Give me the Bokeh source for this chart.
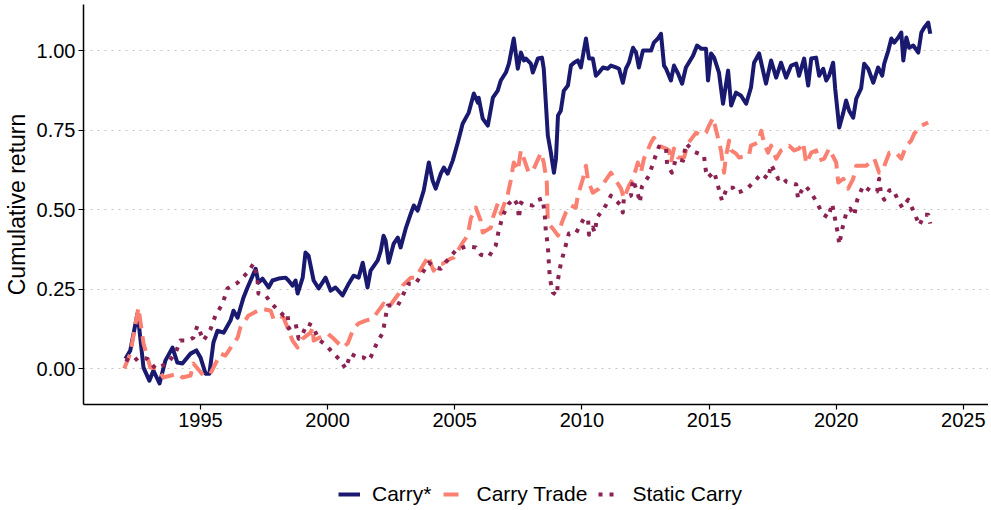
from bokeh.plotting import figure
from bokeh.layouts import column
from bokeh.models import Range1d, FixedTicker, NumeralTickFormatter, Legend, LegendItem
from bokeh.embed import file_html
from bokeh.resources import INLINE

# ---- data (year, cumulative return) ----
carry_star = [
(1992.05,0.031),(1992.24,0.057),(1992.52,0.173),(1992.56,0.151),(1992.76,0.003),(1992.99,-0.038),
(1993.15,-0.006),(1993.39,-0.047),(1993.62,0.025),(1993.90,0.066),(1994.09,0.019),(1994.29,0.016),
(1994.61,0.047),(1994.84,0.057),(1995.00,0.035),(1995.20,-0.016),(1995.35,-0.016),(1995.51,0.082),
(1995.67,0.119),(1995.91,0.113),(1996.18,0.151),(1996.30,0.182),(1996.46,0.160),(1996.69,0.223),
(1996.85,0.255),(1996.97,0.277),(1997.17,0.314),(1997.28,0.270),(1997.44,0.283),(1997.68,0.255),
(1997.83,0.277),(1998.07,0.283),(1998.35,0.286),(1998.46,0.277),(1998.62,0.261),(1998.74,0.277),
(1998.82,0.236),(1999.02,0.286),(1999.13,0.365),(1999.25,0.355),(1999.45,0.277),(1999.65,0.252),
(1999.92,0.286),(2000.12,0.245),(2000.31,0.255),(2000.59,0.230),(2000.83,0.267),(2001.02,0.292),
(2001.22,0.286),(2001.38,0.333),(2001.57,0.255),(2001.69,0.308),(2001.97,0.340),(2002.09,0.371),
(2002.20,0.418),(2002.28,0.403),(2002.40,0.333),(2002.60,0.393),(2002.76,0.412),(2002.87,0.381),
(2003.07,0.440),(2003.27,0.487),(2003.39,0.513),(2003.54,0.497),(2003.78,0.560),(2003.98,0.648),
(2004.13,0.591),(2004.25,0.566),(2004.45,0.613),(2004.57,0.632),(2004.72,0.613),(2004.92,0.654),
(2005.12,0.711),(2005.31,0.770),(2005.55,0.805),(2005.75,0.865),(2005.91,0.836),(2005.94,0.852),
(2006.10,0.786),(2006.30,0.764),(2006.50,0.852),(2006.69,0.874),(2006.81,0.906),(2007.01,0.931),
(2007.13,0.959),(2007.32,1.038),(2007.48,0.943),(2007.60,0.994),(2007.72,0.969),(2007.80,0.975),
(2007.99,0.959),(2008.07,0.931),(2008.27,0.975),(2008.43,0.978),(2008.50,0.943),(2008.66,0.733),
(2008.78,0.679),(2008.90,0.616),(2008.98,0.660),(2009.06,0.796),(2009.17,0.811),(2009.29,0.874),
(2009.45,0.890),(2009.57,0.953),(2009.69,0.962),(2009.84,0.969),(2009.96,0.947),(2010.16,1.038),
(2010.28,0.975),(2010.43,0.975),(2010.55,0.921),(2010.67,0.931),(2010.83,0.947),(2011.02,0.943),
(2011.14,0.953),(2011.34,0.947),(2011.46,0.943),(2011.61,0.899),(2011.73,0.943),(2011.85,0.962),
(2012.01,1.009),(2012.13,0.994),(2012.24,0.947),(2012.40,1.000),(2012.52,1.000),(2012.72,1.000),
(2012.83,1.025),(2012.99,1.038),(2013.11,1.053),(2013.23,0.953),(2013.31,0.943),(2013.50,0.906),
(2013.62,0.953),(2013.78,0.928),(2013.94,0.896),(2014.09,0.947),(2014.37,0.984),(2014.53,1.016),
(2014.69,1.006),(2014.88,1.006),(2014.96,0.906),(2015.08,0.991),(2015.20,0.978),(2015.39,0.931),
(2015.55,0.833),(2015.75,0.937),(2015.87,0.827),(2016.06,0.868),(2016.26,0.858),(2016.46,0.833),
(2016.65,0.884),(2016.77,0.962),(2016.97,0.991),(2017.24,0.896),(2017.44,0.969),(2017.64,0.915),
(2017.83,0.962),(2018.03,0.915),(2018.23,0.953),(2018.43,0.959),(2018.54,0.921),(2018.74,0.975),
(2018.90,0.890),(2019.02,0.975),(2019.21,0.978),(2019.33,0.921),(2019.49,0.943),(2019.61,0.906),
(2019.72,0.921),(2019.88,0.962),(2019.96,0.881),(2020.12,0.758),(2020.28,0.805),(2020.39,0.843),
(2020.51,0.811),(2020.67,0.789),(2020.79,0.849),(2020.98,0.881),(2021.10,0.959),(2021.26,0.943),
(2021.46,0.899),(2021.65,0.947),(2021.81,0.921),(2021.89,0.959),(2022.05,1.000),(2022.17,1.038),
(2022.28,1.025),(2022.44,1.041),(2022.56,1.057),(2022.64,0.969),(2022.76,1.041),(2022.87,1.009),
(2023.03,1.016),(2023.23,0.994),(2023.35,1.057),(2023.46,1.072),(2023.62,1.088),(2023.70,1.053),
]

carry_trade = [
(1992.00,0.000),(1992.24,0.047),(1992.56,0.192),(1992.76,0.079),(1993.03,0.003),(1993.31,0.000),
(1993.54,-0.028),(1994.13,-0.016),(1994.29,-0.028),(1994.61,-0.022),(1994.72,0.016),(1995.12,-0.022),
(1995.39,-0.016),(1995.79,0.047),(1995.98,0.041),(1996.46,0.097),(1996.57,0.129),(1996.89,0.167),
(1997.05,0.173),(1997.24,0.182),(1997.36,0.189),(1997.76,0.182),(1997.87,0.157),(1998.07,0.167),
(1998.27,0.160),(1998.62,0.088),(1998.82,0.066),(1999.02,0.094),(1999.33,0.113),(1999.41,0.129),
(1999.45,0.088),(2000.00,0.110),(2000.20,0.097),(2000.59,0.066),(2000.79,0.079),(2001.02,0.126),
(2001.22,0.142),(2001.50,0.151),(2001.77,0.157),(2002.20,0.204),(2002.40,0.192),(2002.80,0.236),
(2002.95,0.261),(2003.27,0.286),(2003.46,0.286),(2003.98,0.355),(2004.06,0.330),(2004.17,0.308),
(2004.37,0.330),(2004.53,0.330),(2004.84,0.346),(2004.96,0.349),(2005.31,0.396),(2005.51,0.418),
(2005.63,0.472),(2005.83,0.506),(2006.02,0.465),(2006.10,0.428),(2006.42,0.443),(2006.50,0.475),
(2006.69,0.519),(2006.81,0.487),(2007.09,0.550),(2007.20,0.591),(2007.32,0.648),(2007.48,0.623),
(2007.60,0.686),(2007.72,0.660),(2007.91,0.616),(2008.11,0.629),(2008.39,0.679),(2008.50,0.648),
(2008.62,0.585),(2008.66,0.459),(2008.86,0.440),(2009.06,0.418),(2009.21,0.459),(2009.37,0.491),
(2009.57,0.513),(2009.76,0.506),(2009.84,0.544),(2010.04,0.597),(2010.16,0.638),(2010.24,0.591),
(2010.43,0.553),(2010.67,0.566),(2010.87,0.585),(2011.14,0.616),(2011.54,0.566),(2011.65,0.535),
(2011.85,0.575),(2012.01,0.597),(2012.20,0.648),(2012.32,0.616),(2012.44,0.660),(2012.72,0.711),
(2012.83,0.726),(2013.03,0.701),(2013.31,0.692),(2013.43,0.686),(2013.50,0.648),(2013.62,0.692),
(2013.78,0.664),(2014.02,0.664),(2014.17,0.708),(2014.49,0.742),(2014.69,0.733),(2014.88,0.742),
(2015.00,0.764),(2015.16,0.789),(2015.35,0.726),(2015.47,0.686),(2015.59,0.616),(2015.67,0.670),
(2015.79,0.717),(2015.87,0.686),(2016.06,0.676),(2016.18,0.664),(2016.57,0.670),(2016.65,0.701),
(2016.93,0.711),(2017.05,0.748),(2017.17,0.708),(2017.32,0.679),(2017.44,0.701),(2017.64,0.660),
(2017.83,0.686),(2018.15,0.701),(2018.35,0.686),(2018.54,0.692),(2018.70,0.711),(2018.82,0.645),
(2019.02,0.679),(2019.21,0.686),(2019.33,0.654),(2019.53,0.660),(2019.72,0.692),(2020.00,0.648),
(2020.08,0.585),(2020.28,0.597),(2020.47,0.566),(2020.67,0.597),(2020.79,0.638),(2021.18,0.638),
(2021.50,0.660),(2021.69,0.616),(2021.85,0.629),(2022.09,0.679),(2022.36,0.679),(2022.56,0.660),
(2022.76,0.701),(2022.95,0.717),(2023.07,0.739),(2023.35,0.764),(2023.62,0.774),
]

static_carry = [
(1992.05,0.031),(1992.32,0.019),(1992.56,0.035),(1992.91,0.031),(1993.23,0.000),(1993.70,0.016),
(1994.02,0.050),(1994.21,0.088),(1994.49,0.088),(1994.72,0.097),(1994.88,0.135),(1995.12,0.088),
(1995.39,0.123),(1995.59,0.167),(1995.87,0.204),(1996.06,0.252),(1996.46,0.270),(1996.85,0.302),
(1997.09,0.330),(1997.24,0.283),(1997.28,0.236),(1997.56,0.230),(1997.76,0.208),(1997.95,0.192),
(1998.27,0.167),(1998.43,0.173),(1998.46,0.126),(1998.74,0.142),(1998.86,0.094),(1999.02,0.110),
(1999.21,0.142),(1999.41,0.135),(1999.65,0.091),(1999.92,0.075),(2000.24,0.047),(2000.51,0.025),
(2000.71,0.000),(2000.91,0.047),(2001.18,0.035),(2001.42,0.035),(2001.57,0.025),(2001.69,0.035),
(2001.93,0.079),(2002.17,0.113),(2002.36,0.198),(2002.76,0.198),(2002.99,0.236),(2003.19,0.267),
(2003.46,0.267),(2003.74,0.302),(2003.98,0.333),(2004.25,0.318),(2004.45,0.314),(2004.76,0.346),
(2005.04,0.371),(2005.43,0.384),(2005.83,0.381),(2006.02,0.358),(2006.34,0.352),(2006.61,0.387),
(2006.73,0.434),(2006.89,0.481),(2007.13,0.519),(2007.32,0.535),(2007.48,0.513),(2007.52,0.472),
(2007.60,0.522),(2007.72,0.516),(2008.07,0.513),(2008.19,0.528),(2008.46,0.535),(2008.54,0.481),
(2008.58,0.434),(2008.66,0.387),(2008.70,0.333),(2008.74,0.283),(2008.86,0.239),(2009.02,0.230),
(2009.06,0.280),(2009.17,0.330),(2009.33,0.377),(2009.49,0.425),(2009.76,0.425),(2009.88,0.443),
(2010.08,0.472),(2010.24,0.472),(2010.28,0.421),(2010.43,0.443),(2010.51,0.428),(2010.59,0.475),
(2010.87,0.503),(2011.14,0.544),(2011.54,0.513),(2011.61,0.491),(2011.65,0.535),(2011.93,0.544),
(2012.01,0.594),(2012.20,0.550),(2012.28,0.522),(2012.36,0.572),(2012.64,0.607),(2012.83,0.654),
(2013.03,0.698),(2013.23,0.689),(2013.31,0.692),(2013.35,0.642),(2013.54,0.616),(2013.70,0.660),
(2013.98,0.654),(2014.09,0.708),(2014.41,0.682),(2014.80,0.670),(2014.88,0.619),(2014.96,0.601),
(2015.20,0.619),(2015.35,0.575),(2015.51,0.528),(2015.71,0.569),(2015.94,0.569),(2016.06,0.553),
(2016.26,0.557),(2016.54,0.569),(2016.85,0.594),(2017.05,0.613),(2017.32,0.597),(2017.44,0.642),
(2017.72,0.597),(2017.87,0.604),(2018.03,0.588),(2018.43,0.579),(2018.50,0.535),(2018.62,0.557),
(2018.78,0.575),(2018.98,0.557),(2019.25,0.522),(2019.45,0.487),(2019.69,0.475),(2019.84,0.519),
(2019.96,0.469),(2020.08,0.418),(2020.12,0.390),(2020.24,0.440),(2020.39,0.487),(2020.55,0.503),
(2020.71,0.481),(2020.83,0.531),(2021.06,0.575),(2021.38,0.557),(2021.61,0.557),(2021.69,0.597),
(2021.77,0.547),(2021.89,0.531),(2022.09,0.560),(2022.24,0.563),(2022.40,0.535),(2022.60,0.506),
(2022.83,0.531),(2023.07,0.491),(2023.27,0.450),(2023.46,0.484),(2023.62,0.484),(2023.70,0.456),
]

series_names = ["Carry*", "Carry Trade", "Static Carry"]
series_colors = ["#191970", "#FA8072", "#8B2252"]
series_dashes = ["solid", "15 8", "4 7"]
y_ticks = [0.0, 0.25, 0.5, 0.75, 1.0]
x_ticks = [1995, 2000, 2005, 2010, 2015, 2020, 2025]

FONT = "Liberation Sans"
LW = 4

all_series = [carry_star, carry_trade, static_carry]

# ---------------- main chart ----------------
p = figure(frame_width=905, frame_height=400, output_backend="svg", toolbar_location=None,
           x_range=Range1d(1990.40, 2025.99), y_range=Range1d(-0.113, 1.145),
           min_border_left=0, min_border_right=0, min_border_top=4, min_border_bottom=72)
p.outline_line_color = None
p.background_fill_color = "white"
p.border_fill_color = "white"

p.xgrid.grid_line_color = None
p.ygrid.grid_line_color = "#c4c4c4"
p.ygrid.grid_line_dash = "2 5"
p.ygrid.grid_line_width = 1

p.yaxis.ticker = FixedTicker(ticks=y_ticks)
p.xaxis.ticker = FixedTicker(ticks=x_ticks)
p.yaxis.formatter = NumeralTickFormatter(format="0.00")

for ax in (p.xaxis[0], p.yaxis[0]):
    ax.axis_line_color = "black"
    ax.axis_line_width = 1.5
    ax.major_tick_line_color = "black"
    ax.major_tick_line_width = 1.2
    ax.major_tick_out = 5
    ax.major_tick_in = 0
    ax.minor_tick_line_color = None
    ax.major_label_text_font = FONT
    ax.major_label_text_font_size = "20px"
    ax.major_label_text_color = "black"
    ax.major_label_standoff = 3

p.yaxis.axis_label = "Cumulative return"
p.yaxis.axis_label_text_font = FONT
p.yaxis.axis_label_text_font_size = "23px"
p.yaxis.axis_label_text_font_style = "normal"
p.yaxis.axis_label_text_color = "black"
p.yaxis.axis_label_standoff = 4

for data, color, dash in zip(all_series, series_colors, series_dashes):
    xs = [d[0] for d in data]
    ys = [d[1] for d in data]
    p.line(xs, ys, line_color=color, line_width=LW, line_dash=dash,
           line_join="round", line_cap="butt")

# ---------------- legend strip (same series, drawn outside its visible range) ----------------
lg = figure(width=988, height=34, output_backend="svg", toolbar_location=None,
            x_range=Range1d(0, 1), y_range=Range1d(0, 1),
            x_axis_location=None, y_axis_location=None,
            min_border_left=0, min_border_right=0, min_border_top=0, min_border_bottom=0)
lg.outline_line_color = None
lg.background_fill_color = "white"
lg.xgrid.grid_line_color = None
lg.ygrid.grid_line_color = None
keys = []
for data, color, dash in zip(all_series, series_colors, series_dashes):
    xs = [d[0] for d in data]
    ys = [d[1] for d in data]
    keys.append(lg.line(xs, ys, line_color=color, line_width=LW, line_dash=dash, line_cap="butt"))

legend = Legend(items=[LegendItem(label=n, renderers=[r]) for n, r in zip(series_names, keys)],
                orientation="horizontal", location=(255, 4))
legend.border_line_color = None
legend.background_fill_alpha = 0
legend.label_text_font = FONT
legend.label_text_font_size = "21px"
legend.label_text_color = "black"
legend.glyph_width = 22
legend.label_standoff = 12
legend.spacing = 11
legend.padding = 0
legend.margin = 0
lg.add_layout(legend)

layout = column(p, lg, spacing=0)
open("out.html", "w").write(file_html(layout, INLINE))
